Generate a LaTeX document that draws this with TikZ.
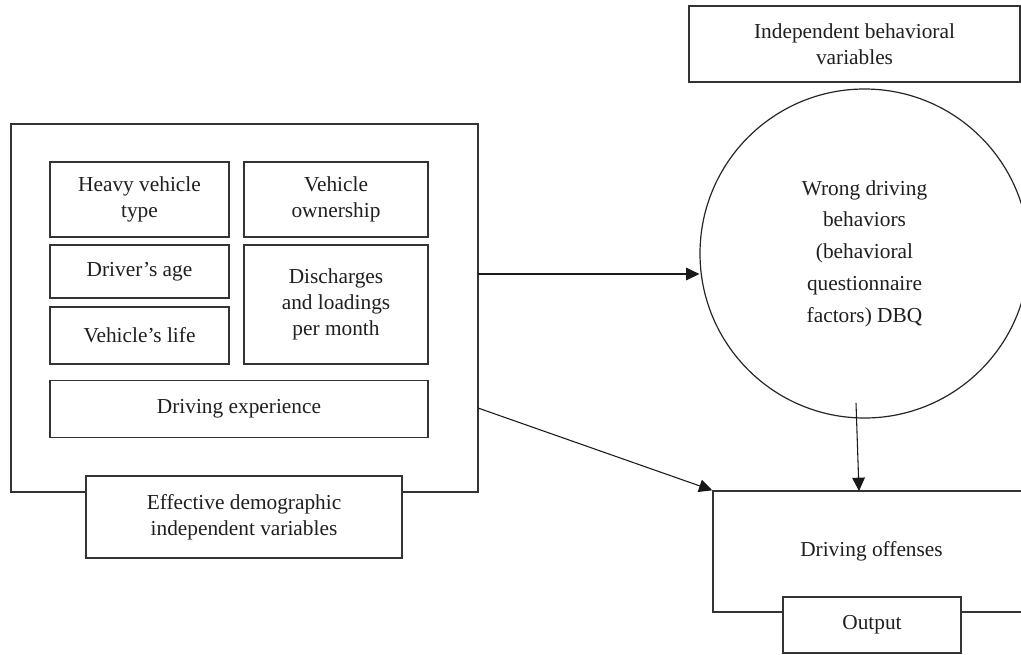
\documentclass[tikz,border=0pt]{standalone}
\usepackage{fontspec}
\setmainfont{Liberation Serif}
\usetikzlibrary{arrows.meta,calc}
\begin{document}
\begin{tikzpicture}[x=0.75pt,y=-0.75pt,
  every node/.style={font=\fontsize{16}{19.5}\selectfont, text=black!88, align=center, inner sep=0pt},
  bx/.style={draw=black!80, line width=1pt, rectangle},
  circ/.style={draw=black!85, line width=0.9pt, circle, minimum size=329*0.75pt, font=\fontsize{16}{23.8}\selectfont},
  arr/.style={draw=black!90, line width=0.8pt, -{Triangle[length=10pt,width=9.5pt]}}]
\useasboundingbox (0,0) rectangle (1021,654);
\clip (0,0) rectangle (1021,654);
\fill[white] (0,0) rectangle (1021,654);
% top right label box
\node[bx, minimum width=331*0.75pt, minimum height=76*0.75pt] (indep) at (854.5,44) {Independent behavioral\\variables};
% outer demographic box
\node[bx, minimum width=467*0.75pt, minimum height=368*0.75pt] (outer) at (244.5,308) {};
\node[bx, minimum width=179*0.75pt, minimum height=75*0.75pt] (hv) at (139.5,199.5) {Heavy vehicle\\type};
\node[bx, minimum width=184*0.75pt, minimum height=75*0.75pt] (vo) at (336,199.5) {Vehicle\\ownership};
\node[bx, minimum width=179*0.75pt, minimum height=53*0.75pt] (da) at (139.5,271.5) {Driver’s age};
\node[bx, minimum width=179*0.75pt, minimum height=57*0.75pt] (vl) at (139.5,335.5) {Vehicle’s life};
\node[bx, minimum width=184*0.75pt, minimum height=119*0.75pt] (dis) at (336,304.5) {Discharges\\and loadings\\per month};
\node[bx, minimum width=378*0.75pt, minimum height=57*0.75pt] (de) at (239,409) {Driving experience};
\node[bx, fill=white, minimum width=316*0.75pt, minimum height=82*0.75pt] (demo) at (244,517) {Effective demographic\\independent variables};
% circle
\node[circ] (wdb) at (864.5,253.5) {Wrong driving\\behaviors\\(behavioral\\questionnaire\\factors) DBQ};
% driving offenses
\node[bx, minimum width=317*0.75pt, minimum height=121*0.75pt] (off) at (871.5,551.5) {Driving offenses};
\node[bx, fill=white, minimum width=178*0.75pt, minimum height=56*0.75pt] (out) at (872,625) {Output};
% connectors
\coordinate (a1s) at (478,274);
\coordinate (a2s) at (478,408);
\coordinate (a3s) at (856,403);
\coordinate (a3e) at (859,491);
\draw[arr] (a1s) -- (wdb.west |- a1s);
\draw[arr] (a2s) -- (off.north west);
\draw[arr] (a3s) -- (a3e);
\end{tikzpicture}
\end{document}
